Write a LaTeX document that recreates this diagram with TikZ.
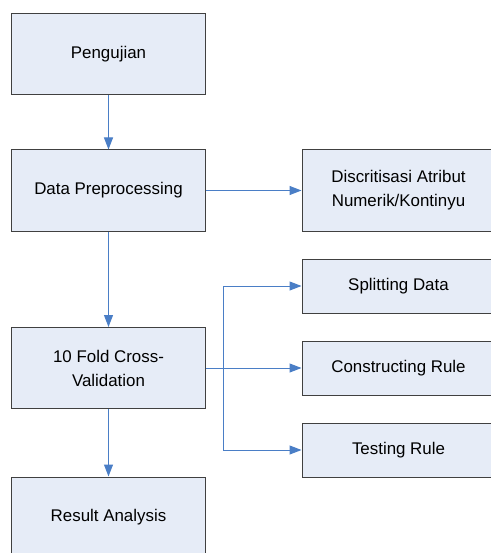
\documentclass[tikz,border=0pt]{standalone}
\usepackage{fontspec}
\setmainfont{Liberation Sans}
\usetikzlibrary{arrows.meta}
\definecolor{boxfill}{HTML}{E6ECF7}
\definecolor{boxline}{HTML}{404040}
\definecolor{arrowblue}{HTML}{4A7EC6}
\tikzset{
  bigbox/.style={draw=boxline, fill=boxfill, line width=1bp, minimum width=193bp, minimum height=81bp, inner sep=0pt, align=center, font=\fontsize{16.9bp}{24bp}\selectfont},
  smallbox/.style={bigbox, minimum height=54bp},
  conn/.style={draw=arrowblue, line width=1bp, -{Triangle[length=12bp,width=9bp]}}
}
\begin{document}
\begin{tikzpicture}[x=1bp,y=-1bp]
\useasboundingbox (0,0) rectangle (491,553);
\node[bigbox] (peng) at (108.5,54.5) {Pengujian};
\node[bigbox] (prep) at (108.5,190.5) {Data Preprocessing};
\node[bigbox] (fold) at (108.5,368) {10 Fold Cross-\\Validation};
\node[bigbox] (res) at (108.5,517.5) {Result Analysis};
\node[bigbox] (disc) at (398.5,190.5) {Discritisasi Atribut\\Numerik/Kontinyu};
\node[smallbox] (split) at (398.5,286) {Splitting Data};
\node[smallbox] (cons) at (398.5,368) {Constructing Rule};
\node[smallbox] (test) at (398.5,450) {Testing Rule};
\coordinate (br) at (223,368);
\draw[conn] (peng) -- (prep);
\draw[conn] (prep) -- (fold);
\draw[conn] (fold) -- (res);
\draw[conn] (prep) -- (disc);
\draw[conn] (fold) -- (cons);
\draw[conn] (br) |- (split);
\draw[conn] (br) |- (test);
\end{tikzpicture}
\end{document}
